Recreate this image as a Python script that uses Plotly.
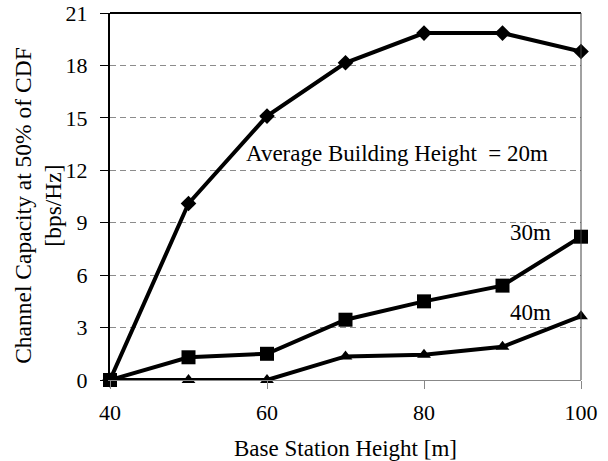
import plotly.graph_objects as go

x_vals = [40, 50, 60, 70, 80, 90, 100]
cap_20m = [0.0, 10.1, 15.1, 18.15, 19.85, 19.85, 18.8]
cap_30m = [0.0, 1.3, 1.5, 3.45, 4.5, 5.4, 8.2]
cap_40m = [0.0, 0.0, 0.0, 1.35, 1.45, 1.9, 3.65]
y_ticks = [0, 3, 6, 9, 12, 15, 18, 21]
x_ticks = [40, 60, 80, 100]

FONT = "'Liberation Serif', 'Times New Roman', Times, serif"
TXT = 23
TICK = 22
fig = go.Figure()

series = [(cap_20m, "diamond", 12), (cap_30m, "square", 14), (cap_40m, "triangle-up", 12)]
for ys, sym, sz in series:
    fig.add_trace(go.Scatter(x=x_vals, y=ys, mode="lines+markers",
                             line=dict(color="black", width=4),
                             marker=dict(symbol=sym, size=sz, color="black"),
                             cliponaxis=False, showlegend=False))

fig.update_layout(
    width=608, height=461,
    margin=dict(l=110, r=27, t=13, b=81, autoexpand=False),
    paper_bgcolor="white", plot_bgcolor="white",
    font=dict(family=FONT, size=TICK, color="black"),
    xaxis=dict(range=[40, 100], tickvals=x_ticks, showgrid=False, zeroline=False,
               automargin=False,
               showline=True, linecolor="#888888", linewidth=1,
               ticks="outside", ticklen=8, tickcolor="#888888", ticklabelstandoff=5,
               tickfont=dict(size=TICK),
               title=dict(text="Base Station Height [m]", font=dict(size=TXT))),
    yaxis=dict(range=[0, 21], tickvals=y_ticks, showgrid=True, gridcolor="#8c8c8c",
               griddash="6px,4px", gridwidth=1, zeroline=False,
               automargin=False,
               showline=True, linecolor="black", linewidth=2,
               ticks="outside", ticklen=8, tickcolor="black", ticklabelstandoff=8,
               tickfont=dict(size=TICK)),
)

# top border and right border
fig.add_shape(type="line", xref="paper", yref="paper", x0=0, x1=1, y0=1, y1=1,
              line=dict(color="black", width=2))
fig.add_shape(type="line", xref="paper", yref="paper", x0=1, x1=1, y0=0, y1=1,
              line=dict(color="#444444", width=1))

# y-axis title
fig.add_annotation(xref="paper", yref="paper", x=-0.151, y=0.477,
                   text="Channel Capacity at 50% of CDF<br>[bps/Hz]", textangle=-90,
                   showarrow=False, font=dict(size=23.5), xanchor="center", yanchor="middle")

fig.add_annotation(x=76.5, y=12.95, text="Average Building Height&nbsp;&nbsp;= 20m", showarrow=False,
                   font=dict(size=TXT), xanchor="center")
fig.add_annotation(x=96.4, y=8.45, text="30m", showarrow=False, font=dict(size=TXT), xanchor="right")
fig.add_annotation(x=96.4, y=3.85, text="40m", showarrow=False, font=dict(size=TXT), xanchor="right")

fig.write_html("out.html", config={"displayModeBar": False},
               post_script="document.body.style.margin='0px';")
